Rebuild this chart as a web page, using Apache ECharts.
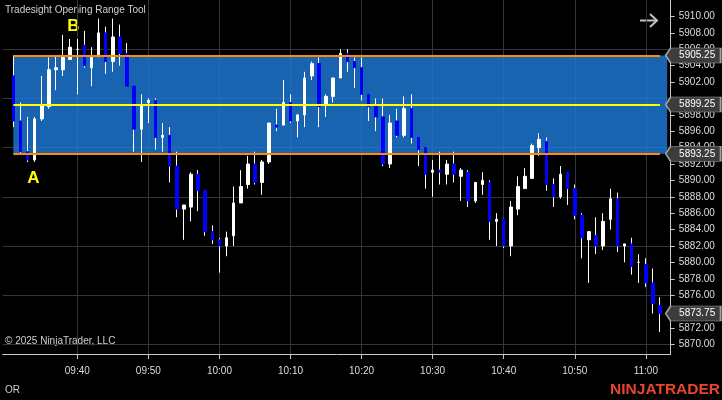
<!DOCTYPE html>
<html><head><meta charset="utf-8">
<script src="https://cdn.jsdelivr.net/npm/echarts@6/dist/echarts.min.js"></script>
<style>html,body{margin:0;padding:0;background:#000}#c{width:722px;height:400px}</style>
</head><body><div id="c"></div>
<script>
// categories: one-minute bars (first and last are empty padding slots)
const categories = ['09:30','09:31','09:32','09:33','09:34','09:35','09:36','09:37','09:38','09:39',
'09:40','09:41','09:42','09:43','09:44','09:45','09:46','09:47','09:48','09:49',
'09:50','09:51','09:52','09:53','09:54','09:55','09:56','09:57','09:58','09:59',
'10:00','10:01','10:02','10:03','10:04','10:05','10:06','10:07','10:08','10:09',
'10:10','10:11','10:12','10:13','10:14','10:15','10:16','10:17','10:18','10:19',
'10:20','10:21','10:22','10:23','10:24','10:25','10:26','10:27','10:28','10:29',
'10:30','10:31','10:32','10:33','10:34','10:35','10:36','10:37','10:38','10:39',
'10:40','10:41','10:42','10:43','10:44','10:45','10:46','10:47','10:48','10:49',
'10:50','10:51','10:52','10:53','10:54','10:55','10:56','10:57','10:58','10:59',
'11:00','11:01','11:02','11:03'];
// bars 09:31 .. 11:02
const openP = [5902.75,5897.25,5893.5,5892.5,5897.5,5899.0,5903.5,5903.5,5904.75,
5906.0,5906.5,5903.75,5905.25,5908.0,5904.5,5907.5,5905.5,5901.5,5896.25,
5899.5,5899.75,5895.25,5895.5,5891.75,5886.5,5886.75,5890.75,5888.75,5883.75,
5882.75,5882.0,5883.25,5887.25,5889.5,5892.0,5889.75,5892.25,5896.75,5896.75,
5899.5,5897.25,5898.0,5902.75,5904.25,5899.25,5900.25,5902.5,5905.5,5904.5,
5903.75,5900.5,5899.0,5897.75,5892.0,5897.25,5895.5,5898.75,5895.25,5894.0,
5891.0,5891.25,5890.75,5892.0,5890.5,5891.0,5887.5,5889.5,5889.75,5885.0,
5885.25,5882.0,5886.5,5889.0,5890.25,5894.0,5894.75,5889.5,5888.0,5891.0,
5889.0,5885.75,5882.75,5883.25,5882.0,5885.25,5887.75,5882.0,5882.25,5880.0,
5879.75,5877.5,5874.75];
const highP = [5905.25,5899.5,5897.75,5897.75,5902.75,5905.0,5905.25,5907.75,5907.25,
5907.25,5908.25,5906.25,5909.75,5908.75,5909.75,5909.0,5906.75,5901.5,5900.5,
5900.0,5900.0,5897.0,5896.5,5893.5,5887.0,5891.0,5891.25,5888.75,5884.5,
5883.0,5883.75,5889.25,5891.25,5893.0,5893.5,5892.5,5897.0,5898.75,5902.25,
5900.5,5898.0,5903.25,5904.5,5905.0,5900.5,5902.5,5906.0,5906.0,5905.0,
5905.0,5900.5,5900.0,5900.0,5898.0,5898.75,5900.25,5900.5,5895.25,5894.0,
5892.5,5893.5,5892.5,5893.5,5891.5,5891.25,5889.75,5891.0,5890.0,5886.0,
5885.25,5887.5,5890.5,5891.5,5894.5,5895.75,5895.25,5890.25,5891.75,5891.0,
5889.5,5886.0,5883.75,5885.5,5886.0,5889.0,5888.5,5882.25,5883.0,5881.0,
5880.5,5879.25,5875.75];
const lowP = [5896.5,5893.25,5892.25,5892.25,5897.25,5898.75,5901.0,5902.75,5904.75,
5900.5,5903.75,5901.5,5905.0,5903.0,5903.25,5904.0,5901.5,5893.5,5892.25,
5897.0,5893.75,5893.5,5889.75,5885.5,5882.75,5885.0,5886.25,5883.25,5882.25,
5878.75,5880.75,5882.0,5887.25,5889.0,5889.5,5888.25,5892.0,5896.0,5896.75,
5897.0,5895.25,5896.5,5902.25,5896.5,5897.75,5899.5,5902.5,5903.25,5901.25,
5899.75,5897.25,5896.0,5891.75,5891.5,5895.25,5895.25,5894.5,5891.75,5889.0,
5888.0,5889.5,5889.5,5889.75,5887.5,5886.75,5887.25,5888.25,5882.75,5882.0,
5881.75,5880.75,5885.75,5889.0,5890.25,5893.0,5888.75,5886.75,5887.75,5887.0,
5885.25,5880.5,5877.5,5881.0,5881.5,5884.0,5881.25,5880.0,5878.5,5877.5,
5877.0,5873.75,5871.5];
const closeP = [5897.25,5893.5,5892.5,5897.5,5899.25,5903.5,5903.75,5905.0,5906.25,
5906.0,5904.0,5905.0,5908.0,5904.5,5907.5,5905.5,5901.5,5896.25,5899.25,
5899.75,5895.25,5895.5,5891.75,5886.5,5887.0,5890.75,5888.75,5883.75,5882.75,
5882.0,5883.0,5887.25,5889.25,5892.0,5889.75,5892.25,5897.0,5896.5,5899.5,
5897.25,5898.0,5902.5,5904.25,5899.0,5900.25,5902.5,5905.5,5904.5,5903.75,
5900.5,5899.0,5897.75,5892.0,5897.0,5895.5,5898.75,5895.25,5893.75,5890.75,
5891.25,5891.0,5892.0,5890.75,5891.25,5887.5,5889.75,5890.0,5885.0,5885.25,
5882.0,5886.75,5889.25,5890.5,5894.25,5895.0,5889.5,5888.0,5890.75,5889.0,
5885.75,5883.0,5883.75,5882.0,5885.0,5887.75,5882.0,5882.25,5879.5,5880.0,
5877.5,5875.0,5873.75];
// visible price labels (5900 and 5874 are hidden behind price markers in the original)
const yTickLabels = [5870,5872,5876,5878,5880,5882,5884,5886,5888,5890,5892,5894,5896,5898,5902,5904,5906,5908,5910];
const yGridLines = [5870,5876,5882,5888,5894,5900,5906];
const xTickLabels = ['09:40','09:50','10:00','10:10','10:20','10:30','10:40','10:50','11:00'];
const orHigh = 5905.25, orMid = 5899.25, orLow = 5893.25;
const orStart = '09:31', orLineEnd = '11:02', orBoxEnd = '11:03';

const yMin = 5868.82, yMax = 5912.01;
const FONT = "'Liberation Sans', Arial, sans-serif";
const lastPrice = closeP[closeP.length - 1];

const wickData = categories.map((t, i) => {
  const k = i - 1;
  if (k < 0 || k >= openP.length) return '-';
  return [openP[k], closeP[k], lowP[k], highP[k]];
});
const bodyData = categories.map((t, i) => {
  const k = i - 1;
  if (k < 0 || k >= openP.length) return '-';
  return [openP[k], closeP[k], Math.min(openP[k], closeP[k]), Math.max(openP[k], closeP[k])];
});
const inTicks = (idx, val) => xTickLabels.indexOf(val) >= 0;

function tag(v) {
  return {
    coord: [orBoxEnd, v], value: v.toFixed(2),
    symbol: 'path://M0,7.5L5,0L55,0L55,15L5,15Z', symbolSize: [55, 15], symbolOffset: [26, 0],
    itemStyle: { color: '#3c3c3c', borderColor: '#a0a0a0', borderWidth: 1 },
    label: { show: true, position: 'inside', offset: [4, 0], color: '#ffffff', fontSize: 10, fontFamily: FONT, formatter: v.toFixed(2) }
  };
}
function hline(v, color) {
  return [{ coord: [orStart, v], lineStyle: { color: color, width: 2, type: 'solid' } }, { coord: [orLineEnd, v] }];
}

const chart = echarts.init(document.getElementById('c'), null, { renderer: 'canvas' });
chart.setOption({
  backgroundColor: '#000000',
  animation: false,
  grid: { left: 2.7, right: 51.3, top: 0, bottom: 46 },
  xAxis: {
    type: 'category', data: categories, boundaryGap: true,
    axisLine: { show: true, lineStyle: { color: '#c8c8c8', width: 1 } },
    axisTick: { show: true, alignWithLabel: true, interval: inTicks, length: 5, lineStyle: { color: '#c8c8c8' } },
    axisLabel: { interval: inTicks, color: '#dcdcdc', fontSize: 10, fontFamily: FONT, margin: 12 },
    splitLine: { show: true, alignWithLabel: true, interval: inTicks, lineStyle: { color: '#363636', width: 1 } }
  },
  yAxis: [
    {
      type: 'value', position: 'right', min: yMin, max: yMax, scale: true,
      axisLine: { show: true, lineStyle: { color: '#c8c8c8', width: 1 } },
      axisTick: { show: true, length: 4, customValues: yTickLabels, lineStyle: { color: '#c8c8c8' } },
      axisLabel: { customValues: yTickLabels, formatter: v => v.toFixed(2), color: '#dcdcdc', fontSize: 10, fontFamily: FONT, margin: 8 },
      splitLine: { show: false }
    },
    {
      type: 'value', position: 'right', min: yMin, max: yMax, scale: true,
      axisLine: { show: false }, axisLabel: { show: false },
      axisTick: { show: false, customValues: yGridLines },
      splitLine: { show: true, lineStyle: { color: '#363636', width: 1 } }
    }
  ],
  series: [
    {
      name: 'wicks', type: 'candlestick', data: wickData, barWidth: 1, yAxisIndex: 0,
      itemStyle: { color: '#ffffff', color0: '#ffffff', borderColor: '#ffffff', borderColor0: '#ffffff', borderColorDoji: '#ffffff', borderWidth: 1 },
      markArea: {
        silent: true, z: 1,
        itemStyle: { color: 'rgba(30,125,220,0.8)' },
        data: [[{ coord: [orStart, orHigh] }, { coord: [orBoxEnd, orLow] }]]
      }
    },
    {
      name: 'bodies', type: 'candlestick', data: bodyData, barWidth: 3, yAxisIndex: 0,
      itemStyle: { color: '#ffffff', color0: '#0000ff', borderColor: '#ffffff', borderColor0: '#0000ff', borderColorDoji: '#ffffff', borderWidth: 1 },
      markLine: {
        silent: true, symbol: ['none', 'none'], label: { show: false },
        data: [hline(orHigh, '#ff8c00'), hline(orMid, '#ffff00'), hline(orLow, '#ff8c00')]
      },
      markPoint: {
        silent: true,
        data: [tag(orHigh), tag(orMid), tag(orLow), tag(lastPrice)]
      }
    }
  ],
  graphic: [
    { type: 'text', left: 5, top: 5, style: { text: 'Tradesight Opening Range Tool', fill: '#d0d0d0', font: '10px ' + FONT } },
    { type: 'text', x: 73.5, y: 26.5, style: { text: 'B', fill: '#ffff00', font: 'bold 17px ' + FONT, textAlign: 'center', textVerticalAlign: 'middle' } },
    { type: 'text', x: 33.5, y: 178, style: { text: 'A', fill: '#ffff00', font: 'bold 17px ' + FONT, textAlign: 'center', textVerticalAlign: 'middle' } },
    { type: 'text', left: 5, top: 336, style: { text: '© 2025 NinjaTrader, LLC', fill: '#d0d0d0', font: '10px ' + FONT } },
    { type: 'text', left: 5, top: 385, style: { text: 'OR', fill: '#d0d0d0', font: '10px ' + FONT } },
    { type: 'text', x: 720, y: 389.5, style: { text: 'NINJATRADER', fill: '#e8452b', font: 'bold 15.5px ' + FONT, textAlign: 'right', textVerticalAlign: 'middle' } },
    { type: 'polyline', shape: { points: [[640, 20.5], [657, 20.5]] }, style: { stroke: '#c0c0c0', lineWidth: 2, fill: null } },
    { type: 'polyline', shape: { points: [[650, 14], [657, 20.5], [650, 27]] }, style: { stroke: '#c0c0c0', lineWidth: 2, fill: null } }
  ]
});
</script></body></html>
